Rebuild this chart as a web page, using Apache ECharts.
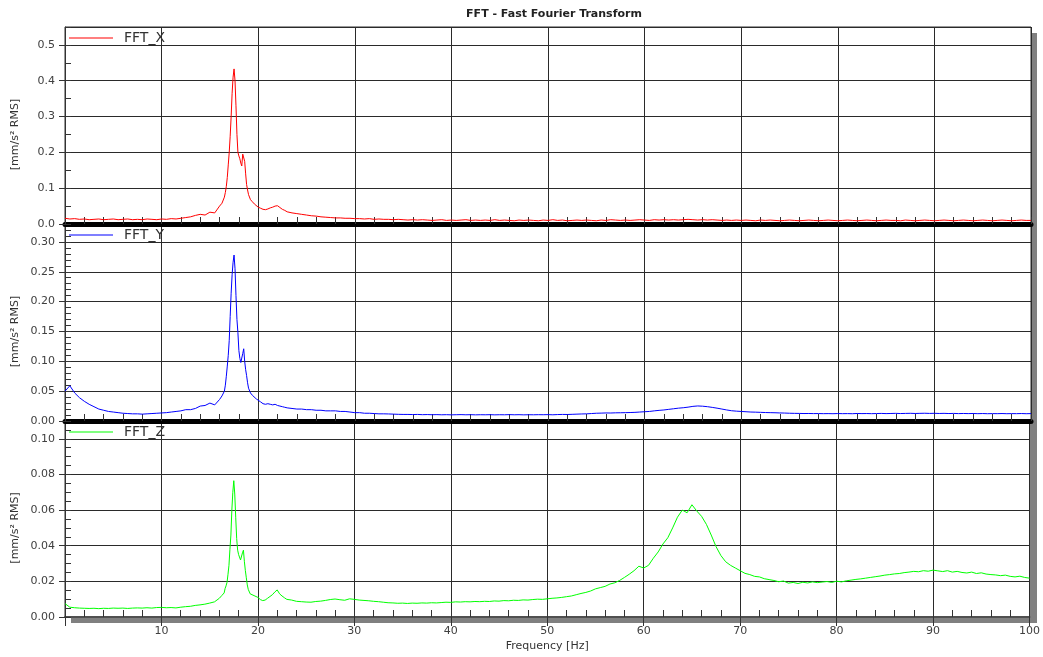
<!DOCTYPE html>
<html><head><meta charset="utf-8">
<script src="https://cdn.jsdelivr.net/npm/echarts@6/dist/echarts.min.js"></script>
<style>html,body{margin:0;padding:0;background:#fff}#c{width:1043px;height:657px}</style>
</head><body><div id="c"></div>
<script>
// ---------- DATA ----------
const chartTitle = 'FFT - Fast Fourier Transform';
const seriesNames = ['FFT_X', 'FFT_Y', 'FFT_Z'];
const xAxisName = 'Frequency [Hz]';
const yAxisName = '[mm/s\u00b2 RMS]';

const freq = [
0,0.5,1,1.5,2,2.5,3,3.5,4,4.5,5,5.5,6,6.5,7,7.5,8,8.5,9,9.5,10,10.5,11,11.5,12,12.5,13,13.5,14,14.5,15,15.5,16,
16.25,16.5,16.6,16.7,16.8,16.9,17,17.1,17.2,17.3,17.4,17.5,17.6,17.7,17.8,17.9,18,18.1,18.2,18.3,18.4,18.5,18.6,18.7,18.8,18.9,19,
19.2,19.4,19.6,19.8,20,
20.25,20.5,20.75,21,21.25,21.5,21.75,22,22.25,22.5,22.75,23,
23.5,24,24.5,25,25.5,26,26.5,27,27.5,28,
28.5,29,29.5,30,30.5,31,31.5,32,32.5,33,
33.5,34,34.5,35,35.5,36,36.5,37,37.5,38,
38.5,39,39.5,40,40.5,41,41.5,42,42.5,43,
43.5,44,44.5,45,45.5,46,46.5,47,47.5,48,
48.5,49,49.5,50,50.5,51,51.5,52,52.5,53,
53.5,54,54.5,55,55.5,56,56.5,57,57.5,58,
58.5,59,59.5,60,60.5,61,61.5,62,62.5,63,
63.5,64,64.5,65,65.5,66,66.5,67,67.5,68,
68.5,69,69.5,70,70.5,71,71.5,72,72.5,73,
73.5,74,74.5,75,75.5,76,76.5,77,77.5,78,
78.5,79,79.5,80,80.5,81,81.5,82,82.5,83,
83.5,84,84.5,85,85.5,86,86.5,87,87.5,88,
88.5,89,89.5,90,90.5,91,91.5,92,92.5,93,
93.5,94,94.5,95,95.5,96,96.5,97,97.5,98,
98.5,99,99.5,100
];

const fftX = [
0.016,0.014,0.015,0.013,0.014,0.012,0.013,0.014,0.012,0.013,0.014,0.012,0.013,0.014,0.012,0.013,0.012,0.014,0.013,0.012,0.014,0.013,0.015,0.014,0.016,0.018,0.020,0.024,0.027,0.025,0.033,0.031,0.050,
0.058,0.075,0.088,0.105,0.130,0.165,0.200,0.245,0.300,0.365,0.410,0.433,0.400,0.330,0.250,0.200,0.190,0.182,0.170,0.162,0.195,0.200,0.175,0.140,0.110,0.095,0.082,
0.068,0.062,0.056,0.051,0.047,
0.044,0.041,0.040,0.042,0.045,0.047,0.050,0.051,0.046,0.041,0.038,0.034,
0.031,0.029,0.027,0.025,0.023,0.022,0.020,0.019,0.018,0.017,
0.017,0.016,0.016,0.015,0.015,0.014,0.015,0.013,0.014,0.013,
0.013,0.012,0.013,0.012,0.011,0.012,0.011,0.012,0.011,0.010,
0.011,0.012,0.010,0.011,0.010,0.011,0.012,0.010,0.011,0.010,
0.011,0.010,0.012,0.010,0.011,0.010,0.009,0.011,0.010,0.011,
0.010,0.009,0.011,0.010,0.012,0.010,0.011,0.009,0.010,0.011,
0.010,0.011,0.010,0.009,0.011,0.010,0.012,0.011,0.010,0.011,
0.010,0.011,0.012,0.011,0.010,0.012,0.011,0.012,0.011,0.012,
0.011,0.012,0.013,0.012,0.011,0.012,0.011,0.012,0.011,0.010,
0.011,0.010,0.011,0.010,0.011,0.010,0.009,0.011,0.010,0.011,
0.010,0.009,0.010,0.011,0.010,0.009,0.010,0.011,0.010,0.009,
0.010,0.011,0.010,0.009,0.010,0.011,0.010,0.009,0.010,0.011,
0.010,0.009,0.010,0.011,0.010,0.010,0.009,0.011,0.010,0.009,
0.010,0.011,0.010,0.009,0.010,0.011,0.010,0.009,0.010,0.011,
0.010,0.009,0.010,0.011,0.010,0.009,0.010,0.011,0.010,0.009,
0.010,0.011,0.010,0.010
];

const fftY = [
0.050,0.059,0.047,0.039,0.033,0.028,0.024,0.020,0.018,0.016,0.015,0.014,0.013,0.0125,0.012,0.012,0.0115,0.012,0.0125,0.013,0.0135,0.014,0.015,0.016,0.017,0.019,0.019,0.021,0.025,0.026,0.030,0.027,0.036,
0.042,0.050,0.060,0.075,0.092,0.110,0.135,0.175,0.214,0.245,0.266,0.278,0.255,0.210,0.170,0.148,0.118,0.105,0.098,0.100,0.113,0.121,0.100,0.086,0.076,0.064,0.055,
0.047,0.043,0.040,0.037,0.035,
0.032,0.029,0.028,0.029,0.028,0.027,0.028,0.026,0.025,0.024,0.023,0.022,
0.021,0.020,0.020,0.019,0.019,0.018,0.018,0.017,0.017,0.017,
0.016,0.016,0.015,0.014,0.014,0.013,0.013,0.0125,0.012,0.012,
0.0118,0.0115,0.0112,0.011,0.011,0.0108,0.011,0.0106,0.0108,0.0105,
0.0107,0.0104,0.0106,0.0103,0.0105,0.0107,0.0104,0.0106,0.0103,0.0105,
0.0104,0.0106,0.0103,0.0105,0.0104,0.0107,0.0104,0.0106,0.0103,0.0105,
0.0104,0.0106,0.0105,0.0107,0.0104,0.0108,0.011,0.0109,0.0112,0.0115,
0.0118,0.012,0.0125,0.013,0.0132,0.0135,0.0134,0.0137,0.0138,0.014,
0.0142,0.0145,0.015,0.0155,0.016,0.017,0.0178,0.0185,0.0195,0.0205,
0.0215,0.0222,0.0232,0.0245,0.0252,0.0248,0.024,0.0228,0.0215,0.020,
0.0185,0.0172,0.0165,0.016,0.0155,0.015,0.0148,0.0145,0.0142,0.014,
0.0138,0.0135,0.0133,0.013,0.0128,0.0127,0.0125,0.0126,0.0124,0.0125,
0.0123,0.0124,0.0122,0.0125,0.0123,0.0124,0.0122,0.0126,0.0124,0.0125,
0.0123,0.0125,0.0127,0.0124,0.0126,0.0128,0.0125,0.0127,0.0129,0.0126,
0.0128,0.013,0.0127,0.0129,0.0126,0.0128,0.0125,0.0127,0.0124,0.0126,
0.0124,0.0126,0.0123,0.0125,0.0122,0.0124,0.0123,0.0125,0.0122,0.0124,
0.0123,0.0125,0.0122,0.0124
];

const fftZ = [
0.0075,0.0055,0.0052,0.005,0.0049,0.0048,0.0049,0.0047,0.0049,0.0048,0.005,0.0049,0.005,0.0048,0.005,0.0051,0.005,0.0052,0.005,0.0053,0.0054,0.0052,0.0053,0.0051,0.0055,0.0058,0.006,0.0065,0.0068,0.0072,0.0078,0.0085,0.0105,
0.012,0.0135,0.016,0.0175,0.0195,0.024,0.029,0.038,0.046,0.060,0.070,0.0765,0.069,0.056,0.044,0.0375,0.035,0.034,0.032,0.031,0.036,0.0375,0.031,0.026,0.022,0.018,0.0155,
0.013,0.0125,0.012,0.0115,0.011,
0.0098,0.0092,0.0095,0.0105,0.0115,0.0125,0.014,0.0152,0.013,0.0118,0.0108,0.0099,
0.0095,0.0088,0.0086,0.0084,0.0083,0.0087,0.0089,0.0093,0.0098,0.0101,
0.0097,0.0094,0.0102,0.0099,0.0095,0.0093,0.0091,0.0088,0.0086,0.0083,
0.008,0.0079,0.0077,0.0078,0.0076,0.0078,0.0077,0.0079,0.0078,0.008,
0.0079,0.0081,0.0083,0.0082,0.0085,0.0084,0.0086,0.0085,0.0087,0.0086,
0.0088,0.0087,0.009,0.0089,0.0092,0.0091,0.0094,0.0093,0.0096,0.0095,
0.0098,0.010,0.0099,0.0102,0.0105,0.0107,0.011,0.0114,0.0118,0.0125,
0.0132,0.0138,0.0146,0.0158,0.0165,0.0172,0.0185,0.0192,0.0205,0.0222,
0.024,0.026,0.0285,0.0275,0.029,0.033,0.0365,0.041,0.0445,0.050,
0.056,0.060,0.0585,0.063,0.0595,0.0565,0.052,0.046,0.0395,0.0345,
0.031,0.029,0.0275,0.026,0.0245,0.0238,0.0228,0.0225,0.0215,0.021,
0.0205,0.0198,0.0202,0.019,0.0194,0.0188,0.0195,0.0191,0.0197,0.0193,
0.0196,0.0199,0.0194,0.0201,0.0197,0.0203,0.0207,0.0211,0.0214,0.0218,
0.0222,0.0226,0.023,0.0235,0.0238,0.0242,0.0244,0.0249,0.0252,0.0256,
0.0254,0.026,0.0257,0.0263,0.0259,0.0255,0.026,0.0252,0.0256,0.025,
0.0247,0.0252,0.0244,0.0248,0.0241,0.0238,0.0236,0.0232,0.0235,0.0228,
0.0225,0.0229,0.0222,0.0218
];

const seriesValues = [fftX, fftY, fftZ];
const seriesColors = ['#ff0000', '#0000ff', '#00ff00'];
const yMax = [0.55, 0.33, 0.11];
const yStep = [0.1, 0.05, 0.02];
const yMinorStep = [0.05, 0.01, 0.005];
const yDecimals = [1, 2, 2];
const topLabelled = [0.5, 0.30, 0.10];
const xMin = 0, xMax = 100, xStep = 10, xMinorStep = 2;

// ---------- LAYOUT ----------
const FONT = 'DejaVu Sans';
const plotLeft = 65, plotRight = 1031;
const gridTops = [27, 224, 421];
const gridHeights = [197, 197, 196];
const gridColor = '#2a2a2a';

const grids = [], xAxes = [], yAxes = [], series = [], legends = [], graphics = [];

graphics.push({
  type: 'rect', z: -10, silent: true,
  shape: { x: plotLeft + 6, y: gridTops[0] + 6, width: plotRight - plotLeft, height: gridTops[2] + gridHeights[2] - gridTops[0] },
  style: { fill: '#808080' }
});

for (let i = 0; i < 3; i++) {
  const last = i === 2;
  grids.push({
    left: plotLeft, width: plotRight - plotLeft, top: gridTops[i], height: gridHeights[i],
    show: true, backgroundColor: '#ffffff', borderColor: '#333', borderWidth: 1
  });
  xAxes.push({
    type: 'value', gridIndex: i, position: 'bottom', min: xMin, max: xMax, interval: xStep,
    name: last ? xAxisName : '', nameLocation: 'middle', nameGap: 24,
    nameTextStyle: { fontFamily: FONT, fontSize: 11, color: '#333' },
    axisLine: { show: true, onZero: false, lineStyle: last ? { color: '#505050', width: 2 } : { color: '#000', width: 5 } },
    axisTick: { show: last, inside: false, length: 9, lineStyle: { color: '#333' } },
    axisLabel: { show: last, margin: 9, fontFamily: FONT, fontSize: 11, color: '#404040',
      formatter: v => (v === 0 ? '' : String(v)) },
    splitLine: { show: true, lineStyle: { color: gridColor, width: 1 } }
  });
  xAxes.push({
    type: 'value', gridIndex: i, position: 'bottom', min: xMin, max: xMax, interval: xMinorStep,
    axisLine: { show: false, onZero: false },
    axisTick: { show: true, inside: true, length: 7, lineStyle: { color: '#333' } },
    axisLabel: { show: false }, splitLine: { show: false }
  });
  const dec = yDecimals[i];
  yAxes.push({
    type: 'value', gridIndex: i, position: 'left', min: 0, max: yMax[i], interval: yStep[i],
    axisLine: { show: true, onZero: false, lineStyle: { color: '#333', width: 1 } },
    axisTick: { show: true, inside: false, length: 6, lineStyle: { color: '#333' } },
    axisLabel: { show: true, margin: 10, showMaxLabel: false, fontFamily: FONT, fontSize: 11, color: '#404040',
      formatter: v => v.toFixed(dec) },
    splitLine: { show: true, lineStyle: { color: gridColor, width: 1 } }
  });
  yAxes.push({
    type: 'value', gridIndex: i, position: 'left', min: 0, max: yMax[i], interval: yMinorStep[i],
    axisLine: { show: false, onZero: false },
    axisTick: { show: true, inside: true, length: 6, lineStyle: { color: '#333' } },
    axisLabel: { show: false }, splitLine: { show: false }
  });
  series.push({
    name: seriesNames[i], type: 'line', xAxisIndex: i * 2, yAxisIndex: i * 2,
    data: freq.map((f, k) => [f, seriesValues[i][k]]),
    showSymbol: false, symbol: 'none', animation: false,
    lineStyle: { color: seriesColors[i], width: 1 }, itemStyle: { color: seriesColors[i] }
  });
  legends.push({
    data: [seriesNames[i]], left: plotLeft + 4, top: gridTops[i] + 4, padding: 0,
    selectedMode: false, icon: 'rect', itemWidth: 44, itemHeight: 1.2,
    textStyle: { fontFamily: FONT, fontSize: 14, color: '#333', padding: [0, 0, 0, 6] }
  });
  const yBottom = gridTops[i] + gridHeights[i];
  const yTopLab = yBottom - gridHeights[i] * topLabelled[i] / yMax[i];
  graphics.push({
    type: 'text', silent: true, z: 10,
    x: 15, y: (yBottom + yTopLab) / 2,
    rotation: Math.PI / 2,
    style: { text: yAxisName, fontFamily: FONT, fontSize: 11, fill: '#333', align: 'center', verticalAlign: 'middle' }
  });
}

const chart = echarts.init(document.getElementById('c'), null, { renderer: 'canvas' });
chart.setOption({
  animation: false,
  backgroundColor: '#ffffff',
  title: { text: chartTitle, left: 554, top: 9, textAlign: 'center', padding: 0,
    textStyle: { fontFamily: FONT, fontSize: 11, fontWeight: 'bold', color: '#222' } },
  legend: legends,
  grid: grids,
  xAxis: xAxes,
  yAxis: yAxes,
  series: series,
  graphic: { elements: graphics }
});
</script>
</body></html>
